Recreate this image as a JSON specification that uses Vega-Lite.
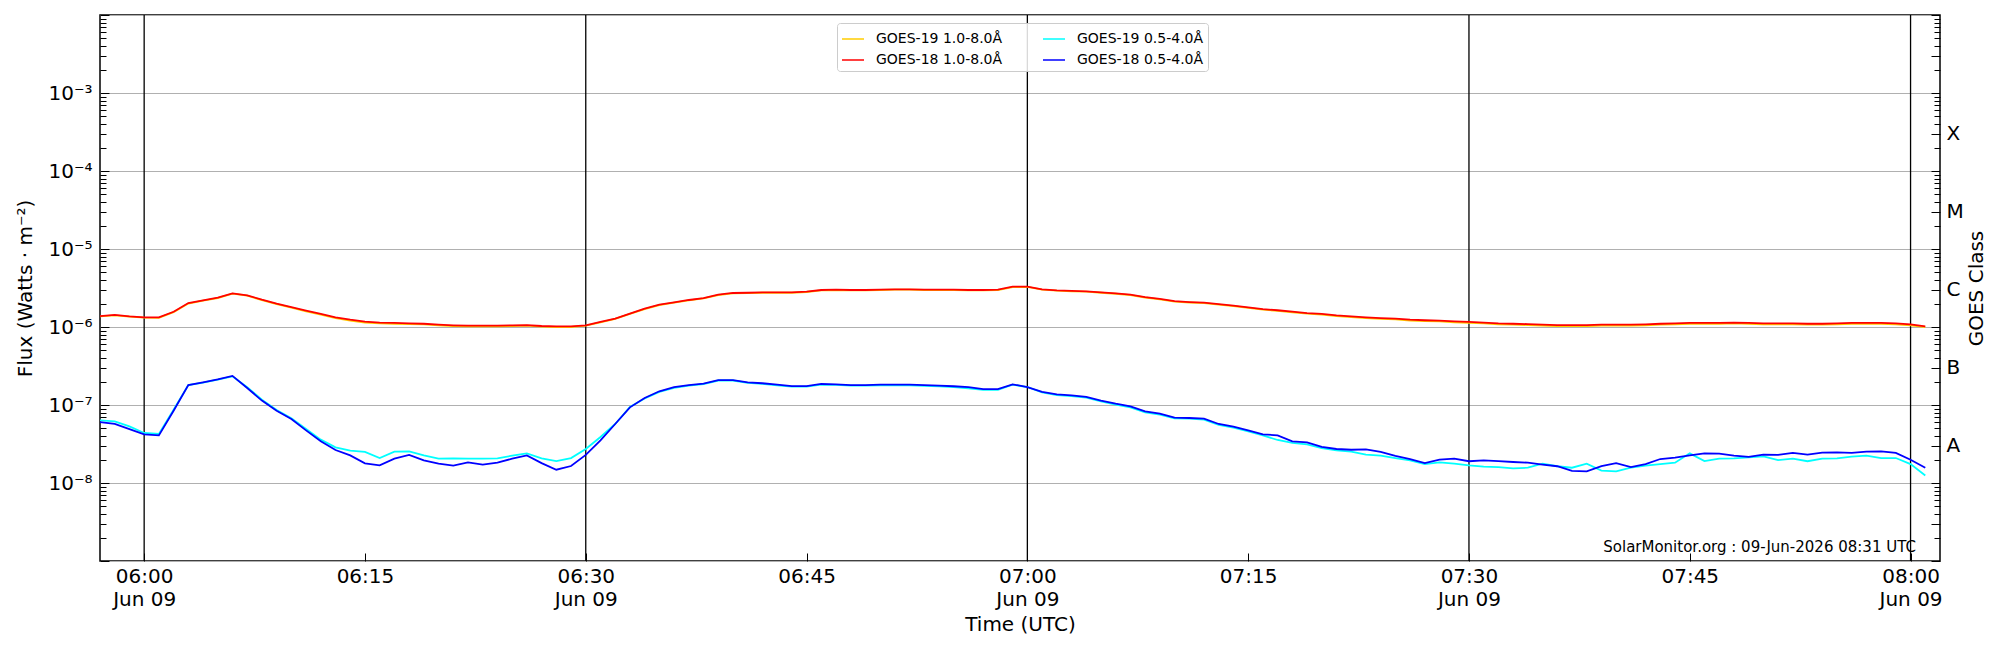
{
  "$schema": "https://vega.github.io/schema/vega-lite/v6.json",
  "width": 1840,
  "height": 546,
  "autosize": {"type": "none"},
  "padding": {"left": 100, "top": 15, "right": 60, "bottom": 89},
  "background": "white",
  "config": {
    "view": {"stroke": "black", "strokeWidth": 1.5},
    "font": "DejaVu Sans",
    "axis": {
      "labelFont": "DejaVu Sans",
      "titleFont": "DejaVu Sans",
      "labelColor": "black",
      "titleColor": "black",
      "tickColor": "black",
      "titleFontWeight": "normal",
      "domain": false,
      "labelOverlap": false,
      "labelFlush": false
    }
  },
  "encoding": {
    "x": {
      "field": "t",
      "type": "temporal",
      "scale": {
        "type": "utc",
        "domain": [
          {"year": 2026, "month": 6, "date": 9, "hours": 5, "minutes": 57, "utc": true},
          {"year": 2026, "month": 6, "date": 9, "hours": 8, "minutes": 2, "utc": true}
        ]
      },
      "axis": {
        "values": [
          {"year": 2026, "month": 6, "date": 9, "hours": 6, "minutes": 0, "utc": true},
          {"year": 2026, "month": 6, "date": 9, "hours": 6, "minutes": 15, "utc": true},
          {"year": 2026, "month": 6, "date": 9, "hours": 6, "minutes": 30, "utc": true},
          {"year": 2026, "month": 6, "date": 9, "hours": 6, "minutes": 45, "utc": true},
          {"year": 2026, "month": 6, "date": 9, "hours": 7, "minutes": 0, "utc": true},
          {"year": 2026, "month": 6, "date": 9, "hours": 7, "minutes": 15, "utc": true},
          {"year": 2026, "month": 6, "date": 9, "hours": 7, "minutes": 30, "utc": true},
          {"year": 2026, "month": 6, "date": 9, "hours": 7, "minutes": 45, "utc": true},
          {"year": 2026, "month": 6, "date": 9, "hours": 8, "minutes": 0, "utc": true}
        ],
        "labelExpr": "utcminutes(datum.value) % 30 == 0 ? [utcFormat(datum.value, '%H:%M'), utcFormat(datum.value, '%b %d')] : utcFormat(datum.value, '%H:%M')",
        "labelFontSize": 20,
        "labelLineHeight": 23,
        "labelBaseline": "top",
        "labelPadding": 13,
        "tickSize": -8,
        "tickWidth": 1,
        "grid": false,
        "title": "Time (UTC)",
        "titleFontSize": 20,
        "titleX": 920,
        "titleY": 63,
        "titleBaseline": "middle",
        "titleAlign": "center"
      }
    }
  },
  "layer": [
    {
      "data": {"values": [
        {"t": "2026-06-09T06:00Z"},
        {"t": "2026-06-09T06:30Z"},
        {"t": "2026-06-09T07:00Z"},
        {"t": "2026-06-09T07:30Z"},
        {"t": "2026-06-09T08:00Z"}
      ]},
      "mark": {"type": "rule", "color": "black", "strokeWidth": 1.3},
      "encoding": {}
    },
    {
      "data": {"values": [
        {"t": "2026-06-09T05:57Z", "g18l": 1.38e-6, "g19l": 1.37e-6, "g19s": 6.36e-8, "g18s": 6.05e-8},
        {"t": "2026-06-09T05:58Z", "g18l": 1.43e-6, "g19l": 1.41e-6, "g19s": 6.18e-8, "g18s": 5.71e-8},
        {"t": "2026-06-09T05:59Z", "g18l": 1.37e-6, "g19l": 1.36e-6, "g19s": 5.33e-8, "g18s": 4.92e-8},
        {"t": "2026-06-09T06:00Z", "g18l": 1.33e-6, "g19l": 1.32e-6, "g19s": 4.38e-8, "g18s": 4.21e-8},
        {"t": "2026-06-09T06:01Z", "g18l": 1.33e-6, "g19l": 1.31e-6, "g19s": 4.25e-8, "g18s": 4.08e-8},
        {"t": "2026-06-09T06:02Z", "g18l": 1.57e-6, "g19l": 1.55e-6, "g19s": 8.71e-8, "g18s": 8.45e-8},
        {"t": "2026-06-09T06:03Z", "g18l": 2.03e-6, "g19l": 2.0e-6, "g19s": 1.8e-7, "g18s": 1.8e-7},
        {"t": "2026-06-09T06:04Z", "g18l": 2.2e-6, "g19l": 2.18e-6, "g19s": 1.93e-7, "g18s": 1.95e-7},
        {"t": "2026-06-09T06:05Z", "g18l": 2.38e-6, "g19l": 2.35e-6, "g19s": 2.11e-7, "g18s": 2.13e-7},
        {"t": "2026-06-09T06:06Z", "g18l": 2.7e-6, "g19l": 2.67e-6, "g19s": 2.33e-7, "g18s": 2.36e-7},
        {"t": "2026-06-09T06:07Z", "g18l": 2.55e-6, "g19l": 2.52e-6, "g19s": 1.69e-7, "g18s": 1.65e-7},
        {"t": "2026-06-09T06:08Z", "g18l": 2.24e-6, "g19l": 2.21e-6, "g19s": 1.17e-7, "g18s": 1.14e-7},
        {"t": "2026-06-09T06:09Z", "g18l": 1.99e-6, "g19l": 1.96e-6, "g19s": 8.6e-8, "g18s": 8.45e-8},
        {"t": "2026-06-09T06:10Z", "g18l": 1.8e-6, "g19l": 1.77e-6, "g19s": 6.75e-8, "g18s": 6.62e-8},
        {"t": "2026-06-09T06:11Z", "g18l": 1.62e-6, "g19l": 1.59e-6, "g19s": 4.92e-8, "g18s": 4.73e-8},
        {"t": "2026-06-09T06:12Z", "g18l": 1.47e-6, "g19l": 1.44e-6, "g19s": 3.6e-8, "g18s": 3.42e-8},
        {"t": "2026-06-09T06:13Z", "g18l": 1.33e-6, "g19l": 1.3e-6, "g19s": 2.87e-8, "g18s": 2.65e-8},
        {"t": "2026-06-09T06:14Z", "g18l": 1.24e-6, "g19l": 1.21e-6, "g19s": 2.6e-8, "g18s": 2.26e-8},
        {"t": "2026-06-09T06:15Z", "g18l": 1.17e-6, "g19l": 1.14e-6, "g19s": 2.5e-8, "g18s": 1.79e-8},
        {"t": "2026-06-09T06:16Z", "g18l": 1.14e-6, "g19l": 1.11e-6, "g19s": 2.09e-8, "g18s": 1.68e-8},
        {"t": "2026-06-09T06:17Z", "g18l": 1.13e-6, "g19l": 1.1e-6, "g19s": 2.52e-8, "g18s": 2.05e-8},
        {"t": "2026-06-09T06:18Z", "g18l": 1.11e-6, "g19l": 1.09e-6, "g19s": 2.55e-8, "g18s": 2.29e-8},
        {"t": "2026-06-09T06:19Z", "g18l": 1.1e-6, "g19l": 1.08e-6, "g19s": 2.26e-8, "g18s": 1.95e-8},
        {"t": "2026-06-09T06:20Z", "g18l": 1.07e-6, "g19l": 1.05e-6, "g19s": 2.05e-8, "g18s": 1.77e-8},
        {"t": "2026-06-09T06:21Z", "g18l": 1.05e-6, "g19l": 1.03e-6, "g19s": 2.07e-8, "g18s": 1.67e-8},
        {"t": "2026-06-09T06:22Z", "g18l": 1.04e-6, "g19l": 1.02e-6, "g19s": 2.05e-8, "g18s": 1.84e-8},
        {"t": "2026-06-09T06:23Z", "g18l": 1.04e-6, "g19l": 1.02e-6, "g19s": 2.05e-8, "g18s": 1.72e-8},
        {"t": "2026-06-09T06:24Z", "g18l": 1.04e-6, "g19l": 1.02e-6, "g19s": 2.07e-8, "g18s": 1.82e-8},
        {"t": "2026-06-09T06:25Z", "g18l": 1.05e-6, "g19l": 1.03e-6, "g19s": 2.24e-8, "g18s": 2.05e-8},
        {"t": "2026-06-09T06:26Z", "g18l": 1.06e-6, "g19l": 1.04e-6, "g19s": 2.4e-8, "g18s": 2.26e-8},
        {"t": "2026-06-09T06:27Z", "g18l": 1.03e-6, "g19l": 1.01e-6, "g19s": 2.07e-8, "g18s": 1.8e-8},
        {"t": "2026-06-09T06:28Z", "g18l": 1.02e-6, "g19l": 1.0e-6, "g19s": 1.91e-8, "g18s": 1.48e-8},
        {"t": "2026-06-09T06:29Z", "g18l": 1.02e-6, "g19l": 1.0e-6, "g19s": 2.09e-8, "g18s": 1.65e-8},
        {"t": "2026-06-09T06:30Z", "g18l": 1.05e-6, "g19l": 1.04e-6, "g19s": 2.73e-8, "g18s": 2.29e-8},
        {"t": "2026-06-09T06:31Z", "g18l": 1.16e-6, "g19l": 1.15e-6, "g19s": 3.89e-8, "g18s": 3.52e-8},
        {"t": "2026-06-09T06:32Z", "g18l": 1.28e-6, "g19l": 1.27e-6, "g19s": 5.71e-8, "g18s": 5.71e-8},
        {"t": "2026-06-09T06:33Z", "g18l": 1.48e-6, "g19l": 1.47e-6, "g19s": 9.42e-8, "g18s": 9.33e-8},
        {"t": "2026-06-09T06:34Z", "g18l": 1.72e-6, "g19l": 1.7e-6, "g19s": 1.21e-7, "g18s": 1.23e-7},
        {"t": "2026-06-09T06:35Z", "g18l": 1.93e-6, "g19l": 1.91e-6, "g19s": 1.47e-7, "g18s": 1.5e-7},
        {"t": "2026-06-09T06:36Z", "g18l": 2.07e-6, "g19l": 2.05e-6, "g19s": 1.66e-7, "g18s": 1.69e-7},
        {"t": "2026-06-09T06:37Z", "g18l": 2.22e-6, "g19l": 2.2e-6, "g19s": 1.77e-7, "g18s": 1.8e-7},
        {"t": "2026-06-09T06:38Z", "g18l": 2.35e-6, "g19l": 2.33e-6, "g19s": 1.85e-7, "g18s": 1.88e-7},
        {"t": "2026-06-09T06:39Z", "g18l": 2.6e-6, "g19l": 2.57e-6, "g19s": 2.06e-7, "g18s": 2.09e-7},
        {"t": "2026-06-09T06:40Z", "g18l": 2.73e-6, "g19l": 2.7e-6, "g19s": 2.06e-7, "g18s": 2.09e-7},
        {"t": "2026-06-09T06:41Z", "g18l": 2.75e-6, "g19l": 2.72e-6, "g19s": 1.92e-7, "g18s": 1.95e-7},
        {"t": "2026-06-09T06:42Z", "g18l": 2.78e-6, "g19l": 2.75e-6, "g19s": 1.87e-7, "g18s": 1.9e-7},
        {"t": "2026-06-09T06:43Z", "g18l": 2.78e-6, "g19l": 2.75e-6, "g19s": 1.79e-7, "g18s": 1.82e-7},
        {"t": "2026-06-09T06:44Z", "g18l": 2.78e-6, "g19l": 2.75e-6, "g19s": 1.72e-7, "g18s": 1.75e-7},
        {"t": "2026-06-09T06:45Z", "g18l": 2.84e-6, "g19l": 2.81e-6, "g19s": 1.72e-7, "g18s": 1.75e-7},
        {"t": "2026-06-09T06:46Z", "g18l": 2.98e-6, "g19l": 2.95e-6, "g19s": 1.83e-7, "g18s": 1.86e-7},
        {"t": "2026-06-09T06:47Z", "g18l": 3.01e-6, "g19l": 2.98e-6, "g19s": 1.81e-7, "g18s": 1.84e-7},
        {"t": "2026-06-09T06:48Z", "g18l": 2.98e-6, "g19l": 2.95e-6, "g19s": 1.77e-7, "g18s": 1.8e-7},
        {"t": "2026-06-09T06:49Z", "g18l": 2.98e-6, "g19l": 2.95e-6, "g19s": 1.77e-7, "g18s": 1.8e-7},
        {"t": "2026-06-09T06:50Z", "g18l": 3.01e-6, "g19l": 2.98e-6, "g19s": 1.79e-7, "g18s": 1.82e-7},
        {"t": "2026-06-09T06:51Z", "g18l": 3.04e-6, "g19l": 3.01e-6, "g19s": 1.78e-7, "g18s": 1.82e-7},
        {"t": "2026-06-09T06:52Z", "g18l": 3.04e-6, "g19l": 3.01e-6, "g19s": 1.78e-7, "g18s": 1.82e-7},
        {"t": "2026-06-09T06:53Z", "g18l": 3.01e-6, "g19l": 2.98e-6, "g19s": 1.76e-7, "g18s": 1.8e-7},
        {"t": "2026-06-09T06:54Z", "g18l": 3.01e-6, "g19l": 2.98e-6, "g19s": 1.73e-7, "g18s": 1.77e-7},
        {"t": "2026-06-09T06:55Z", "g18l": 3.01e-6, "g19l": 2.98e-6, "g19s": 1.7e-7, "g18s": 1.74e-7},
        {"t": "2026-06-09T06:56Z", "g18l": 2.98e-6, "g19l": 2.95e-6, "g19s": 1.63e-7, "g18s": 1.69e-7},
        {"t": "2026-06-09T06:57Z", "g18l": 2.98e-6, "g19l": 2.95e-6, "g19s": 1.56e-7, "g18s": 1.6e-7},
        {"t": "2026-06-09T06:58Z", "g18l": 3.01e-6, "g19l": 2.98e-6, "g19s": 1.56e-7, "g18s": 1.6e-7},
        {"t": "2026-06-09T06:59Z", "g18l": 3.29e-6, "g19l": 3.25e-6, "g19s": 1.82e-7, "g18s": 1.84e-7},
        {"t": "2026-06-09T07:00Z", "g18l": 3.29e-6, "g19l": 3.26e-6, "g19s": 1.7e-7, "g18s": 1.7e-7},
        {"t": "2026-06-09T07:01Z", "g18l": 3.04e-6, "g19l": 3.01e-6, "g19s": 1.45e-7, "g18s": 1.47e-7},
        {"t": "2026-06-09T07:02Z", "g18l": 2.95e-6, "g19l": 2.92e-6, "g19s": 1.34e-7, "g18s": 1.37e-7},
        {"t": "2026-06-09T07:03Z", "g18l": 2.9e-6, "g19l": 2.87e-6, "g19s": 1.3e-7, "g18s": 1.33e-7},
        {"t": "2026-06-09T07:04Z", "g18l": 2.87e-6, "g19l": 2.84e-6, "g19s": 1.24e-7, "g18s": 1.27e-7},
        {"t": "2026-06-09T07:05Z", "g18l": 2.78e-6, "g19l": 2.75e-6, "g19s": 1.11e-7, "g18s": 1.14e-7},
        {"t": "2026-06-09T07:06Z", "g18l": 2.7e-6, "g19l": 2.67e-6, "g19s": 1.01e-7, "g18s": 1.04e-7},
        {"t": "2026-06-09T07:07Z", "g18l": 2.6e-6, "g19l": 2.57e-6, "g19s": 9.3e-8, "g18s": 9.62e-8},
        {"t": "2026-06-09T07:08Z", "g18l": 2.42e-6, "g19l": 2.39e-6, "g19s": 8.05e-8, "g18s": 8.29e-8},
        {"t": "2026-06-09T07:09Z", "g18l": 2.29e-6, "g19l": 2.26e-6, "g19s": 7.55e-8, "g18s": 7.74e-8},
        {"t": "2026-06-09T07:10Z", "g18l": 2.15e-6, "g19l": 2.12e-6, "g19s": 6.75e-8, "g18s": 6.88e-8},
        {"t": "2026-06-09T07:11Z", "g18l": 2.09e-6, "g19l": 2.06e-6, "g19s": 6.68e-8, "g18s": 6.81e-8},
        {"t": "2026-06-09T07:12Z", "g18l": 2.05e-6, "g19l": 2.02e-6, "g19s": 6.5e-8, "g18s": 6.68e-8},
        {"t": "2026-06-09T07:13Z", "g18l": 1.97e-6, "g19l": 1.94e-6, "g19s": 5.55e-8, "g18s": 5.71e-8},
        {"t": "2026-06-09T07:14Z", "g18l": 1.88e-6, "g19l": 1.85e-6, "g19s": 5.12e-8, "g18s": 5.27e-8},
        {"t": "2026-06-09T07:15Z", "g18l": 1.79e-6, "g19l": 1.76e-6, "g19s": 4.6e-8, "g18s": 4.73e-8},
        {"t": "2026-06-09T07:16Z", "g18l": 1.7e-6, "g19l": 1.67e-6, "g19s": 4.08e-8, "g18s": 4.21e-8},
        {"t": "2026-06-09T07:17Z", "g18l": 1.64e-6, "g19l": 1.61e-6, "g19s": 3.56e-8, "g18s": 4.08e-8},
        {"t": "2026-06-09T07:18Z", "g18l": 1.57e-6, "g19l": 1.54e-6, "g19s": 3.26e-8, "g18s": 3.42e-8},
        {"t": "2026-06-09T07:19Z", "g18l": 1.51e-6, "g19l": 1.48e-6, "g19s": 3.13e-8, "g18s": 3.32e-8},
        {"t": "2026-06-09T07:20Z", "g18l": 1.47e-6, "g19l": 1.44e-6, "g19s": 2.81e-8, "g18s": 2.9e-8},
        {"t": "2026-06-09T07:21Z", "g18l": 1.41e-6, "g19l": 1.38e-6, "g19s": 2.62e-8, "g18s": 2.73e-8},
        {"t": "2026-06-09T07:22Z", "g18l": 1.37e-6, "g19l": 1.34e-6, "g19s": 2.52e-8, "g18s": 2.67e-8},
        {"t": "2026-06-09T07:23Z", "g18l": 1.33e-6, "g19l": 1.3e-6, "g19s": 2.31e-8, "g18s": 2.7e-8},
        {"t": "2026-06-09T07:24Z", "g18l": 1.3e-6, "g19l": 1.27e-6, "g19s": 2.24e-8, "g18s": 2.5e-8},
        {"t": "2026-06-09T07:25Z", "g18l": 1.28e-6, "g19l": 1.25e-6, "g19s": 2.09e-8, "g18s": 2.22e-8},
        {"t": "2026-06-09T07:26Z", "g18l": 1.24e-6, "g19l": 1.21e-6, "g19s": 1.95e-8, "g18s": 2.03e-8},
        {"t": "2026-06-09T07:27Z", "g18l": 1.22e-6, "g19l": 1.19e-6, "g19s": 1.75e-8, "g18s": 1.8e-8},
        {"t": "2026-06-09T07:28Z", "g18l": 1.21e-6, "g19l": 1.18e-6, "g19s": 1.84e-8, "g18s": 1.99e-8},
        {"t": "2026-06-09T07:29Z", "g18l": 1.18e-6, "g19l": 1.15e-6, "g19s": 1.77e-8, "g18s": 2.05e-8},
        {"t": "2026-06-09T07:30Z", "g18l": 1.16e-6, "g19l": 1.13e-6, "g19s": 1.68e-8, "g18s": 1.9e-8},
        {"t": "2026-06-09T07:31Z", "g18l": 1.14e-6, "g19l": 1.11e-6, "g19s": 1.62e-8, "g18s": 1.95e-8},
        {"t": "2026-06-09T07:32Z", "g18l": 1.11e-6, "g19l": 1.08e-6, "g19s": 1.6e-8, "g18s": 1.91e-8},
        {"t": "2026-06-09T07:33Z", "g18l": 1.1e-6, "g19l": 1.07e-6, "g19s": 1.54e-8, "g18s": 1.86e-8},
        {"t": "2026-06-09T07:34Z", "g18l": 1.09e-6, "g19l": 1.06e-6, "g19s": 1.57e-8, "g18s": 1.82e-8},
        {"t": "2026-06-09T07:35Z", "g18l": 1.07e-6, "g19l": 1.04e-6, "g19s": 1.77e-8, "g18s": 1.72e-8},
        {"t": "2026-06-09T07:36Z", "g18l": 1.06e-6, "g19l": 1.03e-6, "g19s": 1.64e-8, "g18s": 1.64e-8},
        {"t": "2026-06-09T07:37Z", "g18l": 1.06e-6, "g19l": 1.03e-6, "g19s": 1.57e-8, "g18s": 1.43e-8},
        {"t": "2026-06-09T07:38Z", "g18l": 1.06e-6, "g19l": 1.03e-6, "g19s": 1.77e-8, "g18s": 1.41e-8},
        {"t": "2026-06-09T07:39Z", "g18l": 1.07e-6, "g19l": 1.04e-6, "g19s": 1.44e-8, "g18s": 1.64e-8},
        {"t": "2026-06-09T07:40Z", "g18l": 1.07e-6, "g19l": 1.04e-6, "g19s": 1.41e-8, "g18s": 1.8e-8},
        {"t": "2026-06-09T07:41Z", "g18l": 1.07e-6, "g19l": 1.04e-6, "g19s": 1.57e-8, "g18s": 1.6e-8},
        {"t": "2026-06-09T07:42Z", "g18l": 1.08e-6, "g19l": 1.05e-6, "g19s": 1.67e-8, "g18s": 1.75e-8},
        {"t": "2026-06-09T07:43Z", "g18l": 1.1e-6, "g19l": 1.07e-6, "g19s": 1.75e-8, "g18s": 2.03e-8},
        {"t": "2026-06-09T07:44Z", "g18l": 1.11e-6, "g19l": 1.08e-6, "g19s": 1.82e-8, "g18s": 2.11e-8},
        {"t": "2026-06-09T07:45Z", "g18l": 1.13e-6, "g19l": 1.1e-6, "g19s": 2.4e-8, "g18s": 2.26e-8},
        {"t": "2026-06-09T07:46Z", "g18l": 1.13e-6, "g19l": 1.1e-6, "g19s": 1.91e-8, "g18s": 2.4e-8},
        {"t": "2026-06-09T07:47Z", "g18l": 1.13e-6, "g19l": 1.1e-6, "g19s": 2.05e-8, "g18s": 2.38e-8},
        {"t": "2026-06-09T07:48Z", "g18l": 1.14e-6, "g19l": 1.11e-6, "g19s": 2.07e-8, "g18s": 2.24e-8},
        {"t": "2026-06-09T07:49Z", "g18l": 1.13e-6, "g19l": 1.1e-6, "g19s": 2.13e-8, "g18s": 2.16e-8},
        {"t": "2026-06-09T07:50Z", "g18l": 1.11e-6, "g19l": 1.08e-6, "g19s": 2.2e-8, "g18s": 2.31e-8},
        {"t": "2026-06-09T07:51Z", "g18l": 1.11e-6, "g19l": 1.08e-6, "g19s": 1.97e-8, "g18s": 2.29e-8},
        {"t": "2026-06-09T07:52Z", "g18l": 1.11e-6, "g19l": 1.08e-6, "g19s": 2.05e-8, "g18s": 2.43e-8},
        {"t": "2026-06-09T07:53Z", "g18l": 1.1e-6, "g19l": 1.07e-6, "g19s": 1.9e-8, "g18s": 2.31e-8},
        {"t": "2026-06-09T07:54Z", "g18l": 1.1e-6, "g19l": 1.07e-6, "g19s": 2.05e-8, "g18s": 2.45e-8},
        {"t": "2026-06-09T07:55Z", "g18l": 1.11e-6, "g19l": 1.08e-6, "g19s": 2.07e-8, "g18s": 2.47e-8},
        {"t": "2026-06-09T07:56Z", "g18l": 1.13e-6, "g19l": 1.1e-6, "g19s": 2.18e-8, "g18s": 2.43e-8},
        {"t": "2026-06-09T07:57Z", "g18l": 1.13e-6, "g19l": 1.1e-6, "g19s": 2.24e-8, "g18s": 2.52e-8},
        {"t": "2026-06-09T07:58Z", "g18l": 1.13e-6, "g19l": 1.1e-6, "g19s": 2.09e-8, "g18s": 2.55e-8},
        {"t": "2026-06-09T07:59Z", "g18l": 1.11e-6, "g19l": 1.08e-6, "g19s": 2.09e-8, "g18s": 2.43e-8},
        {"t": "2026-06-09T08:00Z", "g18l": 1.08e-6, "g19l": 1.05e-6, "g19s": 1.75e-8, "g18s": 1.99e-8},
        {"t": "2026-06-09T08:01Z", "g18l": 1.02e-6, "g19l": 1.0e-6, "g19s": 1.25e-8, "g18s": 1.57e-8}
      ]},
      "transform": [
        {"fold": ["g19l", "g19s", "g18l", "g18s"], "as": ["series", "flux"]}
      ],
      "mark": {"type": "line", "strokeWidth": 1.8, "clip": true},
      "encoding": {
        "y": {
          "field": "flux",
          "type": "quantitative",
          "scale": {"type": "log", "domain": [1e-9, 1e-2], "nice": false},
          "axis": {
            "orient": "left",
            "values": [1e-9, 2e-9, 3e-9, 4e-9, 5e-9, 6e-9, 7e-9, 8e-9, 9e-9,
                       1e-8, 2e-8, 3e-8, 4e-8, 5e-8, 6e-8, 7e-8, 8e-8, 9e-8,
                       1e-7, 2e-7, 3e-7, 4e-7, 5e-7, 6e-7, 7e-7, 8e-7, 9e-7,
                       1e-6, 2e-6, 3e-6, 4e-6, 5e-6, 6e-6, 7e-6, 8e-6, 9e-6,
                       1e-5, 2e-5, 3e-5, 4e-5, 5e-5, 6e-5, 7e-5, 8e-5, 9e-5,
                       1e-4, 2e-4, 3e-4, 4e-4, 5e-4, 6e-4, 7e-4, 8e-4, 9e-4,
                       1e-3, 2e-3, 3e-3, 4e-3, 5e-3, 6e-3, 7e-3, 8e-3, 9e-3, 1e-2],
            "labelExpr": "abs(log(datum.value)/LN10 - round(log(datum.value)/LN10)) < 0.01 && datum.value > 5e-9 && datum.value < 5e-3 ? '10⁻' + ['⁰','¹','²','³','⁴','⁵','⁶','⁷','⁸','⁹'][-round(log(datum.value)/LN10)] : ''",
            "labelFontSize": 20,
            "labelPadding": 17,
            "tickSize": -9,
            "tickWidth": 1,
            "tickDash": {"condition": {"test": "abs(log(datum.value)/LN10 - round(log(datum.value)/LN10)) > 0.01", "value": [6, 40]}, "value": [40, 0]},
            "grid": true,
            "gridColor": "#b0b0b0",
            "gridWidth": 1.2,
            "gridOpacity": {"condition": {"test": "abs(log(datum.value)/LN10 - round(log(datum.value)/LN10)) < 0.01", "value": 1}, "value": 0},
            "title": "Flux (Watts · m⁻²)",
            "titleFontSize": 20,
            "titleAngle": 270,
            "titleX": -75,
            "titleY": 273,
            "titleBaseline": "middle",
            "titleAlign": "center"
          }
        },
        "color": {
          "field": "series",
          "type": "nominal",
          "scale": {"domain": ["g19l", "g18l", "g19s", "g18s"], "range": ["#FFCC00", "#FF0000", "#00FFFF", "#0000FF"]},
          "legend": {
            "orient": "none",
            "legendX": 737,
            "legendY": 8,
            "columns": 2,
            "title": null,
            "labelExpr": "datum.label == 'g19l' ? 'GOES-19 1.0-8.0Å' : datum.label == 'g18l' ? 'GOES-18 1.0-8.0Å' : datum.label == 'g19s' ? 'GOES-19 0.5-4.0Å' : 'GOES-18 0.5-4.0Å'",
            "symbolType": "stroke",
            "symbolSize": 484,
            "symbolStrokeWidth": 1.5,
            "labelFont": "DejaVu Sans",
            "labelFontSize": 14,
            "labelColor": "black",
            "labelOffset": 11,
            "fillColor": "rgba(255,255,255,0.85)",
            "strokeColor": "#cccccc",
            "cornerRadius": 3,
            "padding": 4,
            "rowPadding": 2,
            "columnPadding": 37
          }
        }
      }
    },
    {
      "data": {"values": [
        {"t": "2026-06-09T08:00:22Z", "v": 1.32e-9, "label": "SolarMonitor.org : 09-Jun-2026 08:31 UTC"}
      ]},
      "mark": {"type": "text", "align": "right", "baseline": "alphabetic", "fontSize": 15, "font": "DejaVu Sans", "color": "black"},
      "encoding": {
        "text": {"field": "label"},
        "y": {
          "field": "v",
          "type": "quantitative",
          "scale": {"type": "log", "domain": [1e-9, 1e-2], "nice": false},
          "axis": {
            "orient": "right",
            "values": [1e-9, 2e-9, 3e-9, 4e-9, 5e-9, 6e-9, 7e-9, 8e-9, 9e-9,
                       1e-8, 2e-8, 3e-8, 4e-8, 5e-8, 6e-8, 7e-8, 8e-8, 9e-8,
                       1e-7, 2e-7, 3e-7, 4e-7, 5e-7, 6e-7, 7e-7, 8e-7, 9e-7,
                       1e-6, 2e-6, 3e-6, 4e-6, 5e-6, 6e-6, 7e-6, 8e-6, 9e-6,
                       1e-5, 2e-5, 3e-5, 4e-5, 5e-5, 6e-5, 7e-5, 8e-5, 9e-5,
                       1e-4, 2e-4, 3e-4, 4e-4, 5e-4, 6e-4, 7e-4, 8e-4, 9e-4,
                       1e-3, 2e-3, 3e-3, 4e-3, 5e-3, 6e-3, 7e-3, 8e-3, 9e-3, 1e-2],
            "labelExpr": "datum.value > 2.9e-8 && datum.value < 3.1e-8 ? 'A' : datum.value > 2.9e-7 && datum.value < 3.1e-7 ? 'B' : datum.value > 2.9e-6 && datum.value < 3.1e-6 ? 'C' : datum.value > 2.9e-5 && datum.value < 3.1e-5 ? 'M' : datum.value > 2.9e-4 && datum.value < 3.1e-4 ? 'X' : ''",
            "labelFontSize": 20,
            "labelPadding": 15,
            "tickSize": -9,
            "tickWidth": 1,
            "tickDash": {"condition": {"test": "abs(log(datum.value)/LN10 - round(log(datum.value)/LN10)) > 0.01 && abs(log(datum.value/3)/LN10 - round(log(datum.value/3)/LN10)) > 0.01", "value": [6, 40]}, "value": [40, 0]},
            "grid": false,
            "title": "GOES Class",
            "titleFontSize": 20,
            "titleAngle": 270,
            "titleX": 36,
            "titleY": 273,
            "titleBaseline": "middle",
            "titleAlign": "center"
          }
        }
      }
    }
  ],
  "resolve": {"scale": {"y": "independent"}, "axis": {"y": "independent"}}
}
